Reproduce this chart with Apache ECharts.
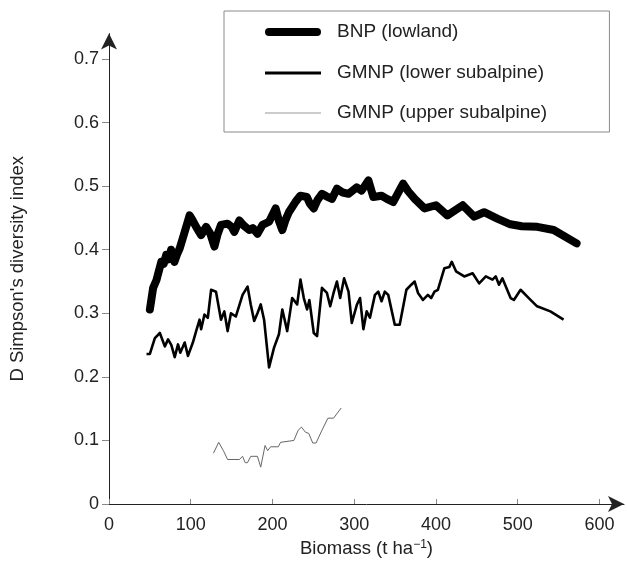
<!DOCTYPE html>
<html>
<head>
<meta charset="utf-8">
<script src="https://cdn.jsdelivr.net/npm/echarts@6/dist/echarts.min.js"></script>
<style>html,body{margin:0;padding:0;background:#fff}#c{width:627px;height:576px}</style>
</head>
<body>
<div id="c"></div>
<script>
// Biomass (t/ha) vs D Simpson's diversity index
var seriesNames = ['BNP (lowland)', 'GMNP (lower subalpine)', 'GMNP (upper subalpine)'];
var xTicks = [0, 100, 200, 300, 400, 500, 600];
var yTicks = [0, 0.1, 0.2, 0.3, 0.4, 0.5, 0.6, 0.7];

var bnp = [
  [50,0.306],[54,0.340],[58,0.352],[64,0.381],[67,0.378],[70,0.392],[73,0.385],[76,0.400],[80,0.381],[83,0.392],
  [86.5,0.402],[92.6,0.428],[98.6,0.454],[102,0.447],[106.6,0.436],[112.7,0.423],[118.8,0.436],[124,0.425],[129,0.405],
  [133,0.425],[137,0.439],[145,0.441],[150,0.436],[153.3,0.428],[159.4,0.446],[165,0.438],[171.5,0.431],
  [176,0.434],[181.6,0.425],[187.7,0.439],[195.8,0.444],[203.8,0.465],[208,0.445],[212,0.431],[216,0.447],[220,0.459],
  [228,0.475],[234,0.485],[242,0.483],[246,0.472],[250.5,0.465],[255,0.478],[260.5,0.488],[266,0.484],[272.7,0.480],
  [278.8,0.496],[286,0.490],[293,0.488],[303,0.498],[309,0.493],[317.3,0.509],[323.3,0.483],[333.4,0.485],
  [340,0.480],[347.6,0.475],[359.8,0.504],[366,0.492],[374,0.480],[386,0.465],[400,0.470],[414,0.454],
  [432.7,0.470],[446.7,0.452],[458.9,0.459],[475,0.449],[491,0.440],[505,0.437],[524,0.436],[544,0.431],[572,0.410]
];

var gmnpLower = [
  [45.9,0.236],[50,0.236],[56.1,0.261],[62.2,0.269],[68.3,0.248],[72.3,0.259],[76.3,0.250],[80.4,0.231],[84.4,0.251],
  [87.2,0.238],[92.6,0.254],[96.6,0.233],[102.6,0.254],[106.6,0.272],[110.8,0.290],[112.7,0.275],[116.8,0.298],
  [120.9,0.293],[124.9,0.337],[130.9,0.334],[137,0.290],[141.1,0.303],[145.1,0.272],[149.2,0.300],[155.2,0.295],
  [163.4,0.329],[169.5,0.342],[173.4,0.314],[177.6,0.288],[181.6,0.300],[185.6,0.314],[189.7,0.290],[195.8,0.215],
  [201.9,0.246],[207.9,0.267],[212,0.306],[218,0.272],[224.1,0.324],[230.2,0.314],[234.2,0.353],[238.3,0.324],
  [242.3,0.306],[245.1,0.321],[250.5,0.269],[254.5,0.264],[260.5,0.340],[266.6,0.332],[270.6,0.311],[274.7,0.332],
  [278.8,0.350],[282.8,0.324],[287.6,0.355],[293,0.334],[297,0.285],[303.1,0.313],[307.1,0.324],[311.2,0.275],
  [315.2,0.303],[319.2,0.293],[325.3,0.329],[329.4,0.334],[333.4,0.319],[337.4,0.334],[341.6,0.329],[349.6,0.282],
  [355.6,0.282],[363.8,0.337],[369.8,0.345],[373.9,0.350],[378,0.332],[384.1,0.321],[390.1,0.329],[394.1,0.324],
  [398.2,0.334],[402.3,0.337],[410.3,0.371],[416.4,0.373],[419.3,0.381],[424.5,0.366],[434.6,0.358],[444.8,0.363],
  [452.8,0.347],[461,0.358],[469.1,0.353],[473.1,0.358],[477.1,0.345],[481.2,0.355],[491.3,0.324],[495.3,0.321],
  [503.5,0.337],[513.5,0.324],[523.7,0.311],[539.9,0.303],[556.1,0.290]
];

var gmnpUpper = [
  [127.8,0.080],[134.2,0.097],[139.9,0.084],[145.1,0.070],[159.4,0.070],[163.4,0.075],[166.6,0.065],[169.4,0.065],
  [173.4,0.075],[181.6,0.075],[185.6,0.058],[190.9,0.092],[194.1,0.084],[197.7,0.090],[207.1,0.090],[209.9,0.097],
  [226.2,0.100],[231.4,0.116],[235.4,0.121],[240.3,0.113],[244.4,0.111],[249.2,0.096],[253.3,0.096],[260.5,0.116],
  [267.8,0.135],[274.7,0.135],[284,0.151]
];

var FONT = 'Liberation Sans, Arial, sans-serif';
var TXT = '#222';
var legText = {fontFamily: FONT, fontSize: 19, color: TXT, lineHeight: 22, padding: [0, 0, 0, 11]};
var chart = echarts.init(document.getElementById('c'), null, {renderer: 'canvas'});
chart.setOption({
  animation: false,
  backgroundColor: '#fff',
  grid: {left: 105.5, right: 3, top: 33.6, bottom: 72, containLabel: false},
  legend: [
    {
      data: [{name: seriesNames[0], icon: 'path://M4,0H52A4,4 0 0 1 52,8H4A4,4 0 0 1 4,0Z'}],
      orient: 'vertical', left: 224, top: 11, selectedMode: false,
      padding: [10, 151, 89, 41],
      itemWidth: 56, itemHeight: 8,
      borderColor: '#8a8a8a', borderWidth: 1,
      textStyle: legText
    },
    {
      data: [{name: seriesNames[1], icon: 'rect'}],
      orient: 'vertical', left: 265, top: 62, padding: 0, selectedMode: false,
      itemWidth: 56, itemHeight: 3,
      textStyle: legText
    },
    {
      data: [{name: seriesNames[2], icon: 'rect', itemStyle: {color: '#999'}}],
      orient: 'vertical', left: 265, top: 102, padding: 0, selectedMode: false,
      itemWidth: 56, itemHeight: 1,
      textStyle: legText
    }
  ],
  xAxis: {
    type: 'value', min: 0, max: 630,
    name: 'Biomass (t ha{sup|−1})',
    nameLocation: 'middle', nameGap: 32,
    nameTextStyle: {fontFamily: FONT, fontSize: 18.5, color: TXT,
      rich: {sup: {fontSize: 12, verticalAlign: 'top', padding: [0, 0, 9, 0], fontFamily: FONT, color: TXT}}},
    axisLine: {show: true, lineStyle: {color: '#222', width: 1}, symbol: ['none', 'arrow'], symbolSize: [12, 16]},
    axisTick: {show: true, inside: true, length: 5, lineStyle: {color: '#888'}, customValues: xTicks},
    axisLabel: {fontFamily: FONT, fontSize: 18, color: TXT, margin: 12, customValues: xTicks},
    splitLine: {show: false}
  },
  yAxis: {
    type: 'value', min: 0, max: 0.74,
    name: "D Simpson's diversity index",
    nameLocation: 'middle', nameGap: 82,
    nameTextStyle: {fontFamily: FONT, fontSize: 18.5, color: TXT},
    axisLine: {show: true, lineStyle: {color: '#222', width: 1}, symbol: ['none', 'arrow'], symbolSize: [12, 16]},
    axisTick: {show: true, inside: false, length: 7, lineStyle: {color: '#888'}, customValues: yTicks},
    axisLabel: {fontFamily: FONT, fontSize: 18, color: TXT, margin: 10, customValues: yTicks,
      formatter: function (v) { return v === 0 ? '0' : v.toFixed(1); }},
    splitLine: {show: false}
  },
  series: [
    {name: seriesNames[0], type: 'line', data: bnp, symbol: 'none',
      lineStyle: {color: '#000', width: 8, cap: 'round', join: 'round'}, itemStyle: {color: '#000'}},
    {name: seriesNames[1], type: 'line', data: gmnpLower, symbol: 'none',
      lineStyle: {color: '#000', width: 2.6, join: 'round'}, itemStyle: {color: '#000'}},
    {name: seriesNames[2], type: 'line', data: gmnpUpper, symbol: 'none',
      lineStyle: {color: '#666', width: 1, join: 'round'}, itemStyle: {color: '#666'}}
  ]
});
</script>
</body>
</html>
